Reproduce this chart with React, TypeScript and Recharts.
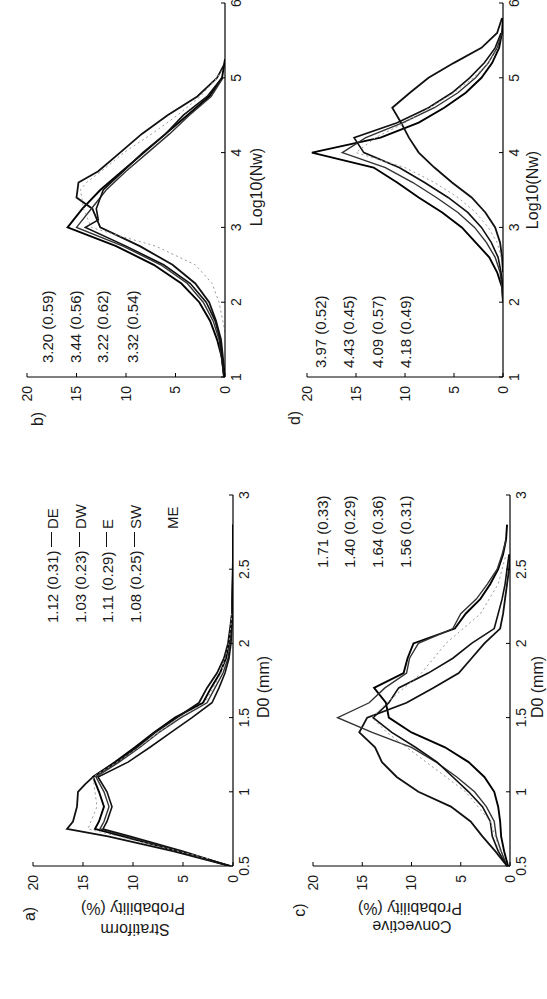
import { LineChart, Line, XAxis, YAxis } from 'recharts';

type Pt = [number, number];

// a) stratiform, D0 (mm) -> probability (%)
const strD0DE: Pt[] = [[0.5,0.3],[0.6,5.5],[0.7,11],[0.75,13.8],[0.8,13.4],[0.9,12.9],[1.0,13.4],[1.1,14.0],[1.2,11.8],[1.3,9.8],[1.4,7.9],[1.5,5.8],[1.6,3.0],[1.7,2.2],[1.8,1.3],[1.9,0.7],[2.0,0.4],[2.1,0.2],[2.2,0.1],[2.5,0],[2.8,0]];
const strD0DW: Pt[] = [[0.5,0.3],[0.6,6],[0.7,12.5],[0.75,16.6],[0.8,16.0],[0.9,15.6],[1.0,15.5],[1.05,14.8],[1.1,14.0],[1.2,11.6],[1.3,9.6],[1.4,7.8],[1.5,5.6],[1.6,3.4],[1.7,2.6],[1.8,1.6],[1.9,0.9],[2.0,0.5],[2.1,0.3],[2.2,0.1],[2.4,0.05],[2.6,0],[2.8,0]];
const strD0E: Pt[] = [[0.5,0.3],[0.6,5.3],[0.7,10.6],[0.75,13.3],[0.8,12.9],[0.9,12.4],[1.0,12.9],[1.1,13.7],[1.2,11.4],[1.3,9.3],[1.4,7.4],[1.5,5.2],[1.6,2.6],[1.7,1.8],[1.8,1.0],[1.9,0.5],[2.0,0.3],[2.1,0.15],[2.3,0.05],[2.6,0],[2.8,0]];
const strD0SW: Pt[] = [[0.5,0.3],[0.6,5.0],[0.7,10.3],[0.75,13.0],[0.8,12.6],[0.9,12.1],[1.0,12.6],[1.1,13.5],[1.2,10.5],[1.3,8.3],[1.4,6.2],[1.5,4.1],[1.6,2.1],[1.7,1.4],[1.8,0.8],[1.9,0.4],[2.0,0.2],[2.2,0.05],[2.5,0],[2.8,0]];
const strD0ME: Pt[] = [[0.55,2.5],[0.6,5.5],[0.7,11.5],[0.75,14.5],[0.8,14.2],[0.9,13.6],[1.0,13.8],[1.1,14.0],[1.2,11.6],[1.3,9.4],[1.4,7.4],[1.5,5.4],[1.6,2.8],[1.8,1.2],[2.0,0.4],[2.2,0.1]];

// b) stratiform, log10(Nw) -> probability (%)
const strNwDE: Pt[] = [[1.0,0.1],[1.25,0.3],[1.5,0.8],[1.75,1.5],[2.0,2.6],[2.25,4.4],[2.5,7.2],[2.75,11],[3.0,15.9],[3.25,14.4],[3.5,12.6],[3.75,10.4],[4.0,8.2],[4.25,6.0],[4.5,3.8],[4.75,1.6],[5.0,0.3],[5.25,0]];
const strNwDW: Pt[] = [[1.0,0],[1.5,0.4],[1.75,0.9],[2.0,1.6],[2.25,3.0],[2.5,5.3],[2.75,8.6],[3.0,12.6],[3.25,13.4],[3.4,15.0],[3.6,14.8],[3.75,12.8],[4.0,10.6],[4.25,8.4],[4.5,5.8],[4.75,2.8],[5.0,0.8],[5.2,0]];
const strNwE: Pt[] = [[1.0,0.1],[1.5,0.6],[1.75,1.2],[2.0,2.2],[2.25,3.8],[2.5,6.5],[2.75,10.3],[3.0,15.0],[3.25,13.5],[3.5,12.0],[3.75,10.0],[4.0,7.8],[4.25,5.6],[4.5,3.6],[4.75,1.4],[5.0,0.2]];
const strNwSW: Pt[] = [[1.0,0.1],[1.5,0.5],[1.75,1.0],[2.0,1.9],[2.25,3.5],[2.5,6.2],[2.75,10.0],[3.0,14.1],[3.1,12.8],[3.25,13.0],[3.5,12.3],[3.75,10.3],[4.0,8.3],[4.25,6.0],[4.5,4.2],[4.75,1.8],[5.0,0.3]];
const strNwME: Pt[] = [[1.6,0],[2.0,0.6],[2.25,1.3],[2.5,3.0],[2.75,7],[2.9,11],[3.0,13.5],[3.25,14.3],[3.5,14.6],[3.6,14.0],[3.75,12.5],[4.0,10.2],[4.25,7.4],[4.5,4.8],[4.75,2.5],[5.0,0.8],[5.1,0.3]];

// c) convective, D0 (mm) -> probability (%)
const cnvD0DE: Pt[] = [[0.5,0.2],[0.6,0.6],[0.7,0.9],[0.8,1.0],[0.9,1.2],[1.0,1.6],[1.1,2.6],[1.2,4.2],[1.3,6.6],[1.4,10.0],[1.5,12.3],[1.6,12.6],[1.7,13.8],[1.8,10.8],[1.9,10.4],[2.0,9.8],[2.1,5.6],[2.2,4.5],[2.3,3.0],[2.4,2.0],[2.5,1.2],[2.6,0.7],[2.7,0.4],[2.8,0.3]];
const cnvD0DW: Pt[] = [[0.5,0.3],[0.6,1.5],[0.7,2.8],[0.8,4.0],[0.9,6.0],[1.0,9.3],[1.1,11.5],[1.2,13.0],[1.3,13.7],[1.4,15.3],[1.5,14.5],[1.6,10.5],[1.7,7.8],[1.8,5.2],[1.9,3.9],[2.0,2.6],[2.1,1.0],[2.2,0.7],[2.3,0.5],[2.4,0.3],[2.5,0.1],[2.6,0]];
const cnvD0E: Pt[] = [[0.5,0.3],[0.6,0.9],[0.7,1.4],[0.8,1.6],[0.9,2.4],[1.0,3.6],[1.1,5.4],[1.2,7.5],[1.3,10.0],[1.4,14.0],[1.5,17.5],[1.6,14.3],[1.7,12.7],[1.8,10.5],[1.9,10.2],[2.0,9.3],[2.1,5.8],[2.2,5.0],[2.3,3.4],[2.4,2.3],[2.5,1.3],[2.6,0.8],[2.7,0.4]];
const cnvD0SW: Pt[] = [[0.5,0.3],[0.6,1.2],[0.7,1.8],[0.8,2.0],[0.9,2.8],[1.0,4.2],[1.1,5.8],[1.2,7.4],[1.3,9.6],[1.4,12.0],[1.5,13.9],[1.6,12.3],[1.7,11.3],[1.8,8.3],[1.9,5.8],[2.0,3.9],[2.1,1.6],[2.2,1.2],[2.3,0.8],[2.4,0.5],[2.5,0.3],[2.6,0.1]];
const cnvD0ME: Pt[] = [[0.6,1.0],[0.8,2.0],[1.0,4.5],[1.2,8.5],[1.4,12.5],[1.5,14],[1.6,12.5],[1.8,9],[2.0,6.5],[2.2,3],[2.4,1.2],[2.6,0.4]];

// d) convective, log10(Nw) -> probability (%)
const cnvNwDE: Pt[] = [[2.0,0],[2.2,0.1],[2.4,0.6],[2.6,1.4],[2.8,2.8],[3.0,4.2],[3.2,6.2],[3.4,8.6],[3.6,10.8],[3.8,13.2],[4.0,19.5],[4.2,12.5],[4.4,8.6],[4.6,6.0],[4.8,3.8],[5.0,2.2],[5.2,1.1],[5.4,0.4],[5.6,0.1],[5.8,0]];
const cnvNwDW: Pt[] = [[2.4,0],[2.6,0.1],[2.8,0.3],[3.0,0.8],[3.2,1.8],[3.4,3.2],[3.6,5.2],[3.8,7.0],[4.0,8.6],[4.2,9.6],[4.4,10.4],[4.6,11.3],[4.8,9.5],[5.0,7.6],[5.2,5.0],[5.4,2.2],[5.6,0.6],[5.8,0.1]];
const cnvNwE: Pt[] = [[2.0,0],[2.2,0.1],[2.4,0.3],[2.6,0.8],[2.8,1.7],[3.0,2.9],[3.2,4.6],[3.4,6.8],[3.6,9.2],[3.8,12.0],[4.0,16.4],[4.2,14.0],[4.4,10.2],[4.6,7.0],[4.8,4.6],[5.0,2.8],[5.2,1.5],[5.4,0.6],[5.6,0.1]];
const cnvNwSW: Pt[] = [[2.2,0],[2.4,0.2],[2.6,0.5],[2.8,1.2],[3.0,2.2],[3.2,3.6],[3.4,5.6],[3.6,8.0],[3.8,10.6],[4.0,14.2],[4.2,15.2],[4.4,10.8],[4.6,7.6],[4.8,5.2],[5.0,3.4],[5.2,1.9],[5.4,0.8],[5.6,0.2]];
const cnvNwME: Pt[] = [[2.6,0.2],[2.8,0.6],[3.0,1.5],[3.2,2.8],[3.4,4.6],[3.6,7.0],[3.8,10.0],[4.0,15.0],[4.2,13.0],[4.4,10.0],[4.6,7.5],[4.8,5.0],[5.0,3.0],[5.2,1.5],[5.4,0.5]];

const d0Ticks = [0.5, 1, 1.5, 2, 2.5, 3];
const nwTicks = [1, 2, 3, 4, 5, 6];
const probTicks = [0, 5, 10, 15, 20];

const regionNames = ['DE', 'DW', 'E', 'SW', 'ME'];
const legendA = ['1.12 (0.31)', '1.03 (0.23)', '1.11 (0.29)', '1.08 (0.25)'];
const legendB = ['3.20 (0.59)', '3.44 (0.56)', '3.22 (0.62)', '3.32 (0.54)'];
const legendC = ['1.71 (0.33)', '1.40 (0.29)', '1.64 (0.36)', '1.56 (0.31)'];
const legendD = ['3.97 (0.52)', '4.43 (0.45)', '4.09 (0.57)', '4.18 (0.49)'];

const FONT = '"Liberation Sans", Arial, sans-serif';
const INK = '#1a1a1a';

const lineLook = [
  { stroke: '#000', width: 1.9, dash: undefined },
  { stroke: '#111', width: 1.8, dash: undefined },
  { stroke: '#333', width: 1.4, dash: undefined },
  { stroke: '#111', width: 1.6, dash: undefined },
  { stroke: '#999', width: 1, dash: '2 3' },
];

const rows = (pts: Pt[]) => pts.map(([x, y]) => ({ x, y }));

type PanelProps = {
  left: number;
  top: number;
  width: number;
  height: number;
  margin: { top: number; right: number; bottom: number; left: number };
  xDomain: [number, number];
  xTicks: number[];
  series: Pt[][];
};

const tickStyle = { fontSize: 14, fill: INK, fontFamily: FONT };

const Panel = ({ left, top, width, height, margin, xDomain, xTicks, series }: PanelProps) => (
  <div style={{ position: 'absolute', left, top }}>
    <LineChart width={width} height={height} margin={margin}>
      <XAxis
        type="number"
        dataKey="x"
        domain={xDomain}
        ticks={xTicks}
        interval={0}
        height={30}
        tick={tickStyle}
        tickSize={-4}
        tickMargin={10}
        axisLine={{ stroke: '#000', strokeWidth: 1.2 }}
        tickLine={{ stroke: '#000' }}
        allowDataOverflow
      />
      <YAxis
        type="number"
        dataKey="y"
        domain={[0, 20]}
        ticks={probTicks}
        interval={0}
        width={40}
        tick={tickStyle}
        tickSize={-4}
        tickMargin={13}
        axisLine={{ stroke: '#000', strokeWidth: 1.2 }}
        tickLine={{ stroke: '#000' }}
        allowDataOverflow
      />
      {series.map((s, i) => (
        <Line
          key={regionNames[i]}
          name={regionNames[i]}
          data={rows(s)}
          dataKey="y"
          type="linear"
          stroke={lineLook[i].stroke}
          strokeWidth={lineLook[i].width}
          strokeDasharray={lineLook[i].dash}
          dot={false}
          isAnimationActive={false}
        />
      ))}
    </LineChart>
  </div>
);

type TxtProps = { u: number; v: number; size?: number; vertical?: boolean; start?: boolean; children: string };

const Txt = ({ u, v, size = 16, vertical = false, start = false, children }: TxtProps) => (
  <div
    style={{
      position: 'absolute',
      left: u,
      top: v,
      fontSize: size,
      fontFamily: FONT,
      color: INK,
      whiteSpace: 'nowrap',
      lineHeight: 1,
      transform: start
        ? 'translateY(-50%)'
        : `translate(-50%, -50%)${vertical ? ' rotate(-90deg)' : ''}`,
    }}
  >
    {children}
  </div>
);

const Dash = ({ u, v }: { u: number; v: number }) => (
  <div style={{ position: 'absolute', left: u, top: v - 1, width: 15, height: 0, borderTop: '1.5px solid #111' }} />
);

const rowsA = [52, 80, 107, 135];
const rowsB = [47, 75, 102, 132];
const rowsC = [322, 349, 377, 405];
const rowsD = [320, 348, 377, 405];

const App = () => (
  <div
    style={{
      position: 'absolute',
      left: 0,
      top: 0,
      width: 999,
      height: 547,
      background: '#fff',
      overflow: 'hidden',
      transformOrigin: '0 0',
      transform: 'translate(0px, 999px) rotate(-90deg)',
    }}
  >
    <Panel
      left={0}
      top={0}
      width={520}
      height={275}
      margin={{ top: 33, right: 16, bottom: 12, left: 93 }}
      xDomain={[0.5, 3]}
      xTicks={d0Ticks}
      series={[strD0DE, strD0DW, strD0E, strD0SW, strD0ME]}
    />
    <Panel
      left={530}
      top={0}
      width={469}
      height={275}
      margin={{ top: 27, right: 3, bottom: 20, left: 52 }}
      xDomain={[1, 6]}
      xTicks={nwTicks}
      series={[strNwDE, strNwDW, strNwE, strNwSW, strNwME]}
    />
    <Panel
      left={0}
      top={280}
      width={520}
      height={267}
      margin={{ top: 33, right: 16, bottom: 7, left: 93 }}
      xDomain={[0.5, 3]}
      xTicks={d0Ticks}
      series={[cnvD0DE, cnvD0DW, cnvD0E, cnvD0SW, cnvD0ME]}
    />
    <Panel
      left={530}
      top={280}
      width={469}
      height={267}
      margin={{ top: 27, right: 3, bottom: 14, left: 52 }}
      xDomain={[1, 6]}
      xTicks={nwTicks}
      series={[cnvNwDE, cnvNwDW, cnvNwE, cnvNwSW, cnvNwME]}
    />

    <Txt u={85} v={30}>a)</Txt>
    <Txt u={70} v={135} vertical>Stratiform</Txt>
    <Txt u={91} v={133} vertical>Probability (%)</Txt>
    <Txt u={312} v={264}>D0 (mm)</Txt>

    <Txt u={580} v={38}>b)</Txt>
    <Txt u={812} v={257}>Log10(Nw)</Txt>

    <Txt u={89} v={300}>c)</Txt>
    <Txt u={73} v={412} vertical>Convective</Txt>
    <Txt u={91} v={410} vertical>Probability (%)</Txt>
    <Txt u={312} v={538}>D0 (mm)</Txt>

    <Txt u={581} v={295}>d)</Txt>
    <Txt u={809} v={533}>Log10(Nw)</Txt>

    {legendA.map((s, i) => (
      <Txt key={s} u={376} v={rowsA[i]} size={15} start>{s}</Txt>
    ))}
    {rowsA.map((v) => (
      <Dash key={v} u={452} v={v} />
    ))}
    {regionNames.map((n, i) => (
      <Txt key={n} u={470} v={i < 4 ? rowsA[i] : 172} size={15} start>{n}</Txt>
    ))}
    {legendB.map((s, i) => (
      <Txt key={s} u={636} v={rowsB[i]} size={15} start>{s}</Txt>
    ))}
    {legendC.map((s, i) => (
      <Txt key={s} u={431} v={rowsC[i]} size={15} start>{s}</Txt>
    ))}
    {legendD.map((s, i) => (
      <Txt key={s} u={631} v={rowsD[i]} size={15} start>{s}</Txt>
    ))}
  </div>
);

export default App;
